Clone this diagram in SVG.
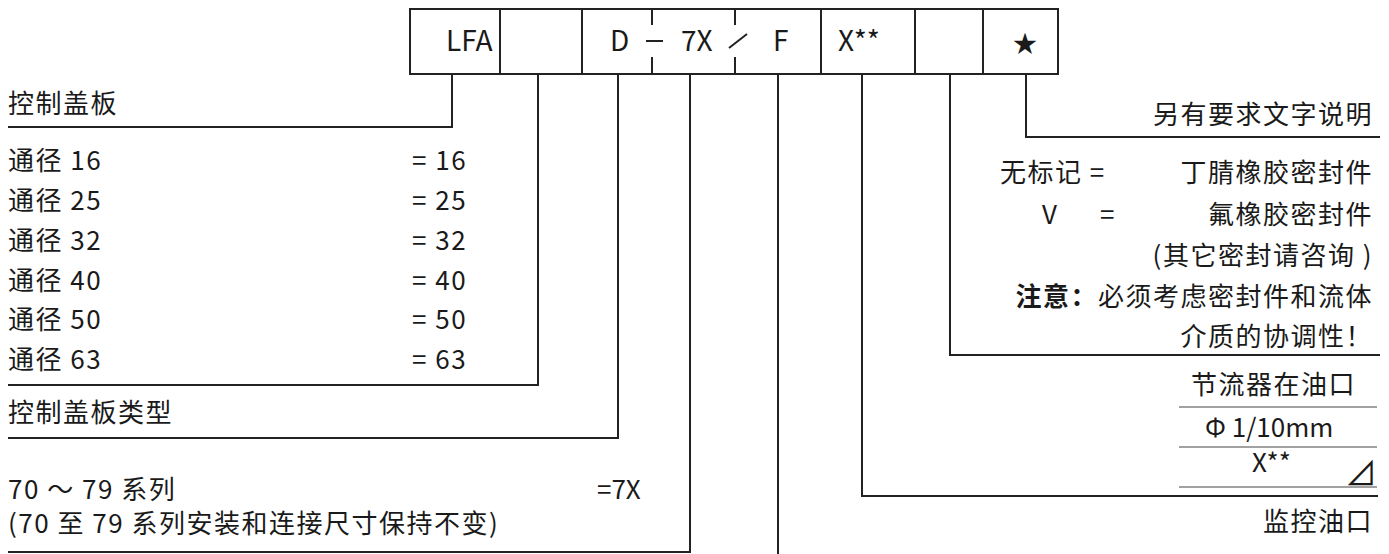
<svg xmlns="http://www.w3.org/2000/svg" width="1389" height="554" viewBox="0 0 1389 554">
<style>
text{font-family:"Noto Sans CJK SC","Noto Sans",sans-serif;fill:#1a1a1a;font-size:26px;letter-spacing:1.5px}
.r{text-anchor:end}
.box{fill:#fff;stroke:#222;stroke-width:2}
.ln{fill:none;stroke:#222;stroke-width:2}
.thin{fill:none;stroke:#444;stroke-width:1}
.code{font-size:28px;letter-spacing:0}
</style>
<rect width="1389" height="554" fill="#fff"/>
<g id="code-boxes">
<rect class="box" x="410" y="9" width="648" height="65"/>
<line class="ln" x1="500" y1="9" x2="500" y2="74"/>
<line class="ln" x1="582" y1="9" x2="582" y2="74"/>
<line class="ln" x1="821" y1="9" x2="821" y2="74"/>
<line class="ln" x1="915" y1="9" x2="915" y2="74"/>
<line class="ln" x1="983" y1="9" x2="983" y2="74"/>
<line class="ln" x1="652" y1="9" x2="652" y2="25"/>
<line class="ln" x1="652" y1="57" x2="652" y2="74"/>
<line class="ln" x1="735" y1="9" x2="735" y2="25"/>
<line class="ln" x1="735" y1="57" x2="735" y2="74"/>
<text class="code" x="446" y="51">LFA</text>
<text class="code" x="610" y="51">D</text>
<line class="ln" x1="646" y1="41" x2="663" y2="41"/>
<text class="code" x="681" y="51">7X</text>
<line class="ln" x1="729" y1="48" x2="747" y2="34"/>
<text class="code" x="773" y="51">F</text>
<text class="code" x="838" y="51">X**</text>
<text x="1013" y="52" style="font-size:24px;letter-spacing:0">★</text>
</g>
<g id="connectors">
<polyline class="ln" points="452,74 452,127 8,127"/>
<polyline class="ln" points="538,74 538,385 8,385"/>
<polyline class="ln" points="618,74 618,438 8,438"/>
<polyline class="ln" points="690,74 690,552 8,552"/>
<line class="ln" x1="778" y1="74" x2="778" y2="554"/>
<polyline class="ln" points="862,74 862,496 1378,496"/>
<polyline class="ln" points="950,74 950,355 1380,355"/>
<polyline class="ln" points="1026,74 1026,137 1380,137"/>
</g>
<g id="cover-plate">
<text x="8" y="113">控制盖板</text>
</g>
<g id="nominal-size">
<text x="8" y="170">通径 16</text><text x="412" y="170">= 16</text>
<text x="8" y="210">通径 25</text><text x="412" y="210">= 25</text>
<text x="8" y="250">通径 32</text><text x="412" y="250">= 32</text>
<text x="8" y="290">通径 40</text><text x="412" y="290">= 40</text>
<text x="8" y="329">通径 50</text><text x="412" y="329">= 50</text>
<text x="8" y="369">通径 63</text><text x="412" y="369">= 63</text>
</g>
<g id="cover-type">
<text x="8" y="422">控制盖板类型</text>
</g>
<g id="series">
<text x="8" y="499">70 ～ 79 系列</text>
<text x="597" y="499" style="letter-spacing:0">=7X</text>
<text x="8" y="533">(70 至 79 系列安装和连接尺寸保持不变)</text>
</g>
<g id="other-requirements">
<text class="r" x="1373" y="124">另有要求文字说明</text>
</g>
<g id="seals">
<text x="1000" y="182">无标记 =</text>
<text class="r" x="1373" y="182">丁腈橡胶密封件</text>
<text x="1042" y="224">V</text>
<text x="1100" y="224">=</text>
<text class="r" x="1373" y="224">氟橡胶密封件</text>
<text class="r" x="1373" y="265">(其它密封请咨询 )</text>
<text class="r" x="1373" y="306"><tspan font-weight="bold">注意：</tspan>必须考虑密封件和流体</text>
<text class="r" x="1373" y="346">介质的协调性！</text>
</g>
<g id="throttle">
<text class="r" x="1356" y="394">节流器在油口</text>
<line class="thin" x1="1179" y1="407" x2="1377" y2="407"/>
<text x="1205" y="437" style="letter-spacing:0">Φ 1/10mm</text>
<line class="thin" x1="1179" y1="447" x2="1377" y2="447"/>
<text x="1252" y="472" style="letter-spacing:0">X**</text>
<text x="1345" y="485" style="font-size:32px;letter-spacing:0">⊿</text>
<line class="thin" x1="1179" y1="487" x2="1377" y2="487"/>
<text class="r" x="1373" y="531">监控油口</text>
</g>
</svg>
